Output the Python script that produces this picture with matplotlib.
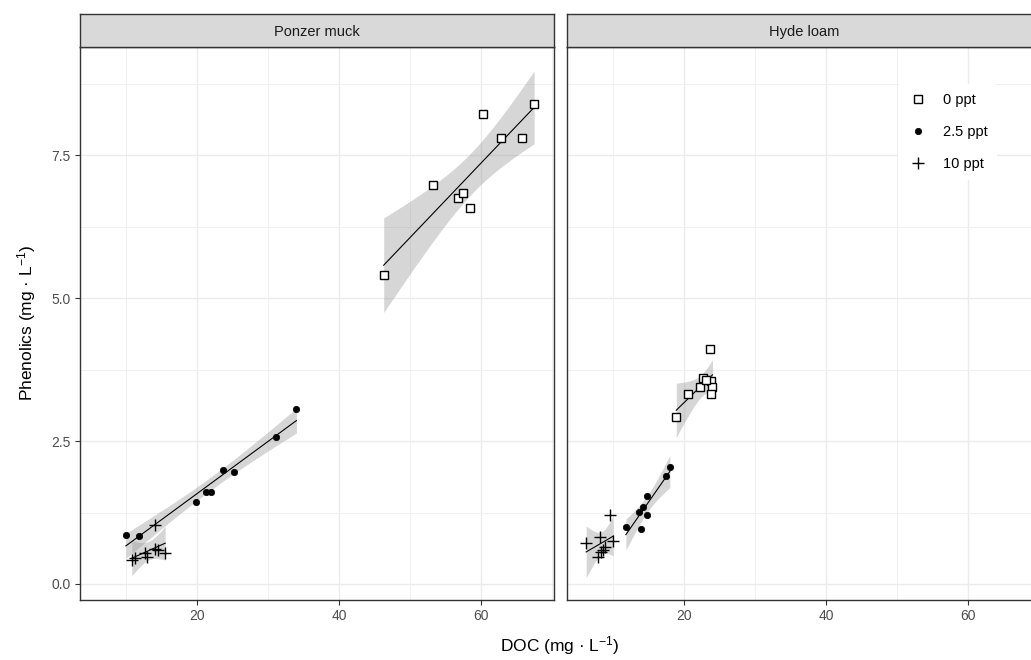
import numpy as np
import matplotlib
matplotlib.use("Agg")
import matplotlib.pyplot as plt

plt.rcParams['font.family'] = ['Liberation Sans', 'DejaVu Sans']
plt.rcParams['mathtext.default'] = 'regular'

# DOC / phenolics per soil and salinity treatment
soils = ["Ponzer muck", "Hyde loam"]
treatments = ["0 ppt", "2.5 ppt", "10 ppt"]

ponzer_0_doc = [46.3, 53.2, 60.3, 62.8, 65.8, 67.5, 56.8, 57.5, 58.5]
ponzer_0_phen = [5.40, 6.98, 8.22, 7.80, 7.80, 8.39, 6.75, 6.84, 6.57]
ponzer_25_doc = [9.96, 11.8, 19.9, 21.2, 21.9, 23.6, 25.2, 31.1, 34.0]
ponzer_25_phen = [0.86, 0.84, 1.43, 1.61, 1.61, 2.00, 1.95, 2.57, 3.06]
ponzer_10_doc = [14.0, 10.8, 11.3, 12.6, 13.0, 14.0, 14.5, 15.5]
ponzer_10_phen = [1.04, 0.42, 0.45, 0.54, 0.48, 0.61, 0.59, 0.55]

hyde_0_doc = [18.9, 20.5, 23.6, 22.6, 22.3, 23.8, 24.0, 23.8, 23.1]
hyde_0_phen = [2.92, 3.32, 4.11, 3.60, 3.45, 3.55, 3.44, 3.33, 3.57]
hyde_25_doc = [11.8, 13.9, 14.8, 13.7, 14.2, 14.8, 17.5, 18.0]
hyde_25_phen = [1.00, 0.96, 1.20, 1.26, 1.35, 1.54, 1.88, 2.05]
hyde_10_doc = [9.5, 6.2, 8.1, 10.0, 8.9, 8.6, 7.9, 8.3]
hyde_10_phen = [1.21, 0.71, 0.82, 0.76, 0.65, 0.59, 0.48, 0.56]

data = {
    "Ponzer muck": [(ponzer_0_doc, ponzer_0_phen), (ponzer_25_doc, ponzer_25_phen),
                    (ponzer_10_doc, ponzer_10_phen)],
    "Hyde loam": [(hyde_0_doc, hyde_0_phen), (hyde_25_doc, hyde_25_phen),
                  (hyde_10_doc, hyde_10_phen)],
}

marker_styles = [
    dict(marker="s", ms=5.6, mfc="white", mec="black", mew=1.0),
    dict(marker="o", ms=4.6, mfc="black", mec="black", mew=0.5),
    dict(marker="+", ms=9, mfc="black", mec="black", mew=1.0),
]

# two-sided 95% t quantiles by degrees of freedom
T95 = {5: 2.571, 6: 2.447, 7: 2.365, 8: 2.306, 9: 2.262}


def lm_band(x, y, n_grid=80):
    x = np.asarray(x, float)
    y = np.asarray(y, float)
    n = len(x)
    b1, b0 = np.polyfit(x, y, 1)
    resid = y - (b0 + b1 * x)
    s = np.sqrt(np.sum(resid ** 2) / (n - 2))
    xm = x.mean()
    sxx = np.sum((x - xm) ** 2)
    xg = np.linspace(x.min(), x.max(), n_grid)
    yg = b0 + b1 * xg
    se = s * np.sqrt(1.0 / n + (xg - xm) ** 2 / sxx)
    t = T95[n - 2]
    return xg, yg, yg - t * se, yg + t * se


W, H = 1031, 660
fig = plt.figure(figsize=(W / 100, H / 100), dpi=100)

panel_w = 474 / W
panel_h = 553 / H
bottom = 60 / H
strip_h = 33 / H
lefts = [80 / W, 567 / W]

axes = []
for i, soil in enumerate(soils):
    ax = fig.add_axes([lefts[i], bottom, panel_w, panel_h])
    axes.append(ax)
    for j, (xs, ys) in enumerate(data[soil]):
        xg, yg, lo, hi = lm_band(xs, ys)
        ax.fill_between(xg, lo, hi, color="#999999", alpha=0.4, lw=0, zorder=2)
        ax.plot(xg, yg, color="black", lw=0.8, zorder=3)
        ax.plot(xs, ys, ls="none", zorder=4, label=treatments[j], **marker_styles[j])

    ax.set_xlim(3.5, 70.3)
    ax.set_ylim(-0.28, 9.39)
    ax.set_xticks([20, 40, 60])
    ax.set_xticks([10, 30, 50, 70], minor=True)
    ax.set_yticks([0, 2.5, 5.0, 7.5])
    ax.set_yticks([1.25, 3.75, 6.25, 8.75], minor=True)
    ax.set_yticklabels(["0.0", "2.5", "5.0", "7.5"])
    ax.grid(True, which="major", color="#EBEBEB", lw=1.0, zorder=0)
    ax.grid(True, which="minor", color="#F0F0F0", lw=0.7, zorder=0)
    ax.set_axisbelow(True)
    ax.tick_params(which="major", length=3.5, width=0.8, color="#333333",
                   labelcolor="#4D4D4D", labelsize=10, pad=3)
    ax.tick_params(which="minor", length=0)
    for sp in ax.spines.values():
        sp.set_color("#333333")
        sp.set_linewidth(1.0)
    if i == 1:
        ax.tick_params(axis="y", which="both", left=False, labelleft=False)

    # facet strip
    sax = fig.add_axes([lefts[i], bottom + panel_h, panel_w, strip_h])
    sax.set_facecolor("#D9D9D9")
    sax.set_xticks([])
    sax.set_yticks([])
    for sp in sax.spines.values():
        sp.set_color("#333333")
        sp.set_linewidth(1.0)
    sax.text(0.5, 0.45, soil, ha="center", va="center", fontsize=10.5,
             color="#1A1A1A", transform=sax.transAxes)

leg = axes[1].legend(loc="upper left", bbox_to_anchor=(898 / W, 1 - 84 / H),
                     bbox_transform=fig.transFigure, frameon=True, fontsize=10.5,
                     labelspacing=1.25, handletextpad=1.0, handlelength=1.5,
                     borderpad=0.6, borderaxespad=0)
leg.get_frame().set_facecolor("white")
leg.get_frame().set_edgecolor("none")
leg.get_frame().set_alpha(1)

fig.text(560 / W, 1 - 646 / H, "DOC (mg · L$^{-1}$)", ha="center", va="center",
         fontsize=12.5, color="black")
fig.text(27 / W, 1 - 323 / H, "Phenolics (mg · L$^{-1}$)", ha="center", va="center",
         rotation=90, fontsize=12.5, color="black")

fig.savefig("out.png", dpi=100)
